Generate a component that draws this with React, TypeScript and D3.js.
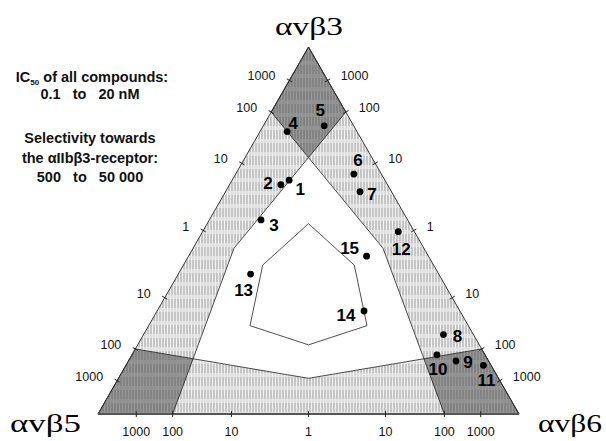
import React, { useRef, useEffect } from "react";
import * as d3 from "d3";

// compound numbers
const compounds = ["1", "2", "3", "4", "5", "6", "7", "8", "9", "10", "11", "12", "13", "14", "15"];
// selectivity of avb3 over avb5: IC50(avb5) / IC50(avb3)
const selB5 = [22, 15, 3.5, 100, 1400, 1000, 530, 28, 6.5, 2.8, 380, 2160, 0.62, 1.87, 25];
// selectivity of avb3 over avb6: IC50(avb6) / IC50(avb3)
const selB6 = [104, 134, 80, 1700, 160, 12.6, 6.8, 0.028, 0.0064, 0.011, 0.0038, 1.22, 10.9, 0.186, 1.05];

const tickRatios = [1000, 100, 10, 1, 0.1, 0.01, 0.001];
const tickLabels = ["1000", "100", "10", "1", "10", "100", "1000"];
const outerLimit = 100;
const innerLimit = 10;

const vertexNames = ["αvβ3", "αvβ5", "αvβ6"];
const noteLines = ["0.1   to   20 nM", "Selectivity towards", "the αIIbβ3-receptor:", "500   to   50 000"];

const App = () => {
  const svgRef = useRef<SVGSVGElement | null>(null);

  useEffect(() => {
    const width = 606;
    const height = 441;
    const svg = d3.select(svgRef.current).attr("width", width).attr("height", height);
    svg.selectAll("*").remove();

    // barycentric -> screen
    const x = d3.scaleLinear().domain([0, 1]).range([98, 519]);
    const y = d3.scaleLinear().domain([0, 1]).range([414, 47]);
    const w = d3.scalePow().exponent(1 / 3); // ratio -> ternary weight

    // weights in order [avb3 (top), avb5 (left), avb6 (right)]
    const proj = (t: number, l: number, r: number): [number, number] => {
      const s = t + l + r;
      const a = t / s;
      const c = r / s;
      return [x(c + a / 2), y(a)];
    };
    const line = d3.line();

    const defs = svg.append("defs");
    const light = defs
      .append("pattern")
      .attr("id", "light")
      .attr("patternUnits", "userSpaceOnUse")
      .attr("width", 3)
      .attr("height", 13);
    light.append("rect").attr("width", 3).attr("height", 13).attr("fill", "#eeeeee");
    light.append("line").attr("x1", 1).attr("x2", 1).attr("y1", 0).attr("y2", 9).attr("stroke", "#9c9c9c");
    light.append("line").attr("x1", 1).attr("x2", 1).attr("y1", 9).attr("y2", 13).attr("stroke", "#cccccc");

    const dark = defs
      .append("pattern")
      .attr("id", "dark")
      .attr("patternUnits", "userSpaceOnUse")
      .attr("width", 3)
      .attr("height", 13);
    dark.append("rect").attr("width", 3).attr("height", 13).attr("fill", "#979797");
    dark.append("line").attr("x1", 1).attr("x2", 1).attr("y1", 0).attr("y2", 9).attr("stroke", "#6e6e6e");
    dark.append("line").attr("x1", 1).attr("x2", 1).attr("y1", 9).attr("y2", 13).attr("stroke", "#8a8a8a");

    const T = proj(1, 0, 0);
    const L = proj(0, 1, 0);
    const R = proj(0, 0, 1);

    // whole triangle hatched
    svg
      .append("path")
      .attr("d", line([T, L, R]) + "Z")
      .attr("fill", "url(#light)");

    // outer white hexagon (all pairwise ratios < 100)
    const K = w(outerLimit);
    const hex = (k: number) => [
      proj(k, 1, 1),
      proj(k, k, 1),
      proj(1, k, 1),
      proj(1, k, k),
      proj(1, 1, k),
      proj(k, 1, k),
    ];
    svg
      .append("path")
      .attr("d", line(hex(K)) + "Z")
      .attr("fill", "#ffffff")
      .attr("stroke", "#222")
      .attr("stroke-width", 0.8);

    // dark corners: one receptor > 100x over both others
    const corners = [
      [T, proj(K, 1, 0), proj(K, 1, 1), proj(K, 0, 1)],
      [L, proj(1, K, 0), proj(1, K, 1), proj(0, K, 1)],
      [R, proj(1, 0, K), proj(1, 1, K), proj(0, 1, K)],
    ];
    svg
      .selectAll(".corner")
      .data(corners)
      .enter()
      .append("path")
      .attr("d", (d) => line(d as [number, number][]) + "Z")
      .attr("fill", "url(#dark)")
      .attr("stroke", "#222")
      .attr("stroke-width", 0.8);

    // inner hexagon (ratio 10)
    svg
      .append("path")
      .attr("d", line(hex(w(innerLimit))) + "Z")
      .attr("fill", "none")
      .attr("stroke", "#222")
      .attr("stroke-width", 0.8);

    // triangle outline
    svg
      .append("path")
      .attr("d", line([T, L, R]) + "Z")
      .attr("fill", "none")
      .attr("stroke", "#222")
      .attr("stroke-width", 0.9);
    svg
      .append("line")
      .attr("x1", L[0])
      .attr("y1", L[1])
      .attr("x2", R[0])
      .attr("y2", R[1])
      .attr("stroke", "#555")
      .attr("stroke-width", 1.8);

    // ticks on each edge
    const edges = [
      { pos: (r: number) => proj(w(r), 1, 0), side: "left" },
      { pos: (r: number) => proj(w(r), 0, 1), side: "right" },
      { pos: (r: number) => proj(0, w(r), 1), side: "bottom" },
    ];
    const edgeDir: Record<string, [number, number]> = {
      left: [L[0] - T[0], L[1] - T[1]],
      right: [R[0] - T[0], R[1] - T[1]],
      bottom: [R[0] - L[0], R[1] - L[1]],
    };
    edges.forEach((e) => {
      const [dx, dy] = edgeDir[e.side];
      const len = Math.hypot(dx, dy);
      const nx = -dy / len;
      const ny = dx / len;
      tickRatios.forEach((r, i) => {
        const [tx, ty] = e.pos(r);
        svg
          .append("line")
          .attr("x1", tx - nx * 3)
          .attr("y1", ty - ny * 3)
          .attr("x2", tx + nx * 3)
          .attr("y2", ty + ny * 3)
          .attr("stroke", "#222")
          .attr("stroke-width", 1);
        const t = svg
          .append("text")
          .attr("font-family", "Liberation Sans, Arial, sans-serif")
          .attr("font-size", 12.5)
          .attr("fill", "#111")
          .text(tickLabels[i]);
        if (e.side === "left") t.attr("x", tx - 14).attr("y", ty).attr("text-anchor", "end");
        else if (e.side === "right") t.attr("x", tx + 13).attr("y", ty).attr("text-anchor", "start");
        else t.attr("x", tx).attr("y", 436).attr("text-anchor", "middle");
      });
    });

    // compounds
    const labelOffset: [number, number][] = [
      [11, 9], [-13, -2], [13, 5], [6, -9], [-4, -16], [4, -14], [12, 2], [14, 1],
      [12, 1], [1, 14], [3, 15], [3, 17], [-7, 16], [-18, 4], [-17, -8],
    ];
    const pts = compounds.map((c, i) => ({
      name: c,
      p: proj(1, w(1 / selB5[i]), w(1 / selB6[i])),
      off: labelOffset[i],
    }));
    svg
      .selectAll(".dot")
      .data(pts)
      .enter()
      .append("circle")
      .attr("cx", (d) => d.p[0])
      .attr("cy", (d) => d.p[1])
      .attr("r", 3.4)
      .attr("fill", "#000");
    svg
      .selectAll(".lbl")
      .data(pts)
      .enter()
      .append("text")
      .attr("x", (d) => d.p[0] + d.off[0])
      .attr("y", (d) => d.p[1] + d.off[1] + 6)
      .attr("text-anchor", "middle")
      .attr("font-family", "Liberation Sans, Arial, sans-serif")
      .attr("font-weight", "bold")
      .attr("font-size", 17)
      .attr("fill", "#000")
      .text((d) => d.name);

    // vertex names
    const vPos = [
      { x: 309, y: 35, len: 68, anchor: "middle" },
      { x: 10, y: 432, len: 71, anchor: "start" },
      { x: 538, y: 432, len: 64, anchor: "start" },
    ];
    vertexNames.forEach((n, i) => {
      svg
        .append("text")
        .attr("x", vPos[i].x)
        .attr("y", vPos[i].y)
        .attr("text-anchor", vPos[i].anchor)
        .attr("font-family", "Liberation Serif, Times New Roman, serif")
        .attr("font-size", 26)
        .attr("textLength", vPos[i].len)
        .attr("lengthAdjust", "spacingAndGlyphs")
        .attr("fill", "#000")
        .text(n);
    });

    // note text
    const note = svg
      .append("g")
      .attr("font-family", "Liberation Sans, Arial, sans-serif")
      .attr("font-weight", "bold")
      .attr("font-size", 14.5)
      .attr("text-anchor", "middle")
      .attr("fill", "#111");
    const first = note.append("text").attr("x", 92).attr("y", 82);
    first.append("tspan").text("IC");
    first.append("tspan").attr("font-size", 8).attr("dy", 3).text("50");
    first.append("tspan").attr("dy", -3).text(" of all compounds:");
    const ys = [99, 143, 163, 182];
    noteLines.forEach((s, i) => {
      note
        .append("text")
        .attr("x", 90)
        .attr("y", ys[i])
        .style("white-space", "pre")
        .text(s);
    });
  }, []);

  return (
    <div style={{ position: "absolute", left: 0, top: 0 }}>
      <svg ref={svgRef}></svg>
    </div>
  );
};

export default App;
